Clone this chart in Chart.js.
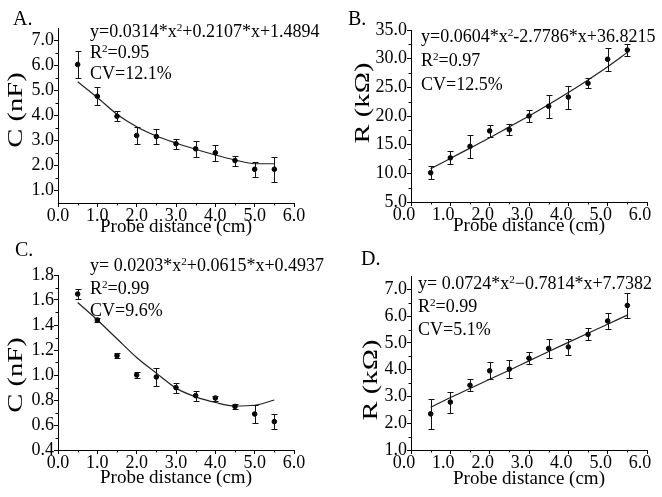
<!DOCTYPE html>
<html>
<head>
<meta charset="utf-8">
<script src="https://cdn.jsdelivr.net/npm/chart.js@4.4.1/dist/chart.umd.min.js"></script>
<style>
	html, body { margin: 0; padding: 0; background: #fff; }
	#fig {
		position: relative;
		width: 662px;
		height: 497px;
		overflow: hidden;
		background: #fff;
		color: #000;
		font-family: 'Liberation Serif', 'Times New Roman', serif;
	}
	#fig canvas { position: absolute; }
	.lbl { position: absolute; font-size: 20px; line-height: 20px; white-space: nowrap; }
	.eq { position: absolute; font-size: 18px; white-space: nowrap; }
	.eq sup { font-size: 0.62em; line-height: 0; vertical-align: 0.5em; }
	.ytitle {
		position: absolute;
		font-size: 22px;
		line-height: 22px;
		white-space: nowrap;
		transform: translate(-50%, -50%) rotate(-90deg) scale(1.3, 1);
	}
</style>
</head>
<body>
<div id="fig">
	<canvas id="cA" width="331" height="248" style="left:0;top:0"></canvas>
	<canvas id="cB" width="331" height="248" style="left:331px;top:0"></canvas>
	<canvas id="cC" width="331" height="249" style="left:0;top:248px"></canvas>
	<canvas id="cD" width="331" height="249" style="left:331px;top:248px"></canvas>

	<div class="lbl" style="left:13px;top:8px">A.</div>
	<div class="lbl" style="left:348px;top:8px">B.</div>
	<div class="lbl" style="left:15px;top:239px">C.</div>
	<div class="lbl" style="left:361px;top:248px">D.</div>

	<div class="ytitle" style="left:15px;top:110px">C (nF)</div>
	<div class="ytitle" style="left:362px;top:103px">R (kΩ)</div>
	<div class="ytitle" style="left:15px;top:375px">C (nF)</div>
	<div class="ytitle" style="left:370px;top:380px">R (kΩ)</div>

	<div class="eq" style="left:90px;top:21px;line-height:21px">y=0.0314*x<sup>2</sup>+0.2107*x+1.4894<br>R<sup>2</sup>=0.95<br>CV=12.1%</div>
	<div class="eq" style="left:421px;top:24px;line-height:24px">y=0.0604*x<sup>2</sup>-2.7786*x+36.8215<br>R<sup>2</sup>=0.97<br>CV=12.5%</div>
	<div class="eq" style="left:90px;top:254px;line-height:22.5px">y= 0.0203*x<sup>2</sup>+0.0615*x+0.4937<br>R<sup>2</sup>=0.99<br>CV=9.6%</div>
	<div class="eq" style="left:418px;top:272px;line-height:23px">y= 0.0724*x<sup>2</sup>−0.7814*x+7.7382<br>R<sup>2</sup>=0.99<br>CV=5.1%</div>
</div>
<script>
// probe distance (cm) shared by all four panels
const distance = [0.5, 1.0, 1.5, 2.0, 2.5, 3.0, 3.5, 4.0, 4.5, 5.0, 5.5];
const xTicks = [0, 1, 2, 3, 4, 5, 6];
const xMinor = [0.5, 1.5, 2.5, 3.5, 4.5, 5.5];

// A. capacitance (nF)
const capA = [6.04, 4.77, 3.97, 3.20, 3.16, 2.87, 2.67, 2.51, 2.20, 1.85, 1.85];
const capAErr = [0.56, 0.36, 0.20, 0.35, 0.30, 0.20, 0.32, 0.33, 0.20, 0.29, 0.50];
const capAFit = [5.35, 4.72, 4.05, 3.55, 3.18, 2.90, 2.65, 2.42, 2.22, 2.07, 2.07];
const yTicksA = [1, 2, 3, 4, 5, 6, 7];
const yMinorA = [1.5, 2.5, 3.5, 4.5, 5.5, 6.5];

// B. resistance (kOhm)
const resB = [10.1, 12.7, 14.7, 17.4, 17.6, 20.0, 21.7, 23.3, 25.7, 29.9, 31.5];
const resBErr = [1.1, 1.15, 2.0, 1.0, 1.0, 1.0, 2.0, 2.0, 0.9, 2.0, 1.0];
const resBFit = [10.8, 12.6, 14.4, 16.2, 18.1, 20.0, 22.0, 24.1, 26.3, 28.6, 31.1];
const yTicksB = [5, 10, 15, 20, 25, 30, 35];
const yMinorB = [7.5, 12.5, 17.5, 22.5, 27.5, 32.5];

// C. capacitance (nF)
const capC = [1.648, 1.44, 1.155, 1.0, 0.984, 0.899, 0.835, 0.816, 0.749, 0.688, 0.627];
const capCErr = [0.037, 0.012, 0.02, 0.027, 0.073, 0.04, 0.04, 0.02, 0.02, 0.07, 0.06];
const capCFit = [1.58, 1.44, 1.29, 1.14, 1.015, 0.895, 0.825, 0.78, 0.752, 0.758, 0.80];
const yTicksC = [0.4, 0.6, 0.8, 1.0, 1.2, 1.4, 1.6, 1.8];
const yMinorC = [0.5, 0.7, 0.9, 1.1, 1.3, 1.5, 1.7];

// D. resistance (kOhm)
const resD = [2.35, 2.79, 3.42, 3.96, 4.02, 4.43, 4.79, 4.85, 5.32, 5.82, 6.40];
const resDErr = [0.56, 0.39, 0.23, 0.31, 0.33, 0.22, 0.35, 0.31, 0.22, 0.31, 0.48];
const resDFit = [2.60, 2.96, 3.30, 3.64, 3.98, 4.33, 4.68, 5.02, 5.36, 5.70, 6.04];
const yTicksD = [1, 2, 3, 4, 5, 6, 7];
const yMinorD = [1.5, 2.5, 3.5, 4.5, 5.5, 6.5];

const FONT = "'Liberation Serif', 'Times New Roman', serif";
Chart.defaults.font.family = FONT;
Chart.defaults.color = '#000';

const errorBars = {
	id: 'errorBars',
	afterDatasetsDraw(chart) {
		const { ctx, scales: { x, y } } = chart;
		chart.data.datasets.forEach(ds => {
			if (!ds.errors) return;
			ctx.save();
			ctx.strokeStyle = '#111';
			ctx.lineWidth = 1;
			ctx.beginPath();
			ds.data.forEach((p, i) => {
				const px = Math.round(x.getPixelForValue(p.x)) + 0.5;
				const top = Math.round(y.getPixelForValue(p.y + ds.errors[i])) + 0.5;
				const bot = Math.round(y.getPixelForValue(p.y - ds.errors[i])) + 0.5;
				ctx.moveTo(px, top); ctx.lineTo(px, bot);
				ctx.moveTo(px - 3, top); ctx.lineTo(px + 3, top);
				ctx.moveTo(px - 3, bot); ctx.lineTo(px + 3, bot);
			});
			ctx.stroke();
			ctx.restore();
		});
	}
};

const minorTicks = {
	id: 'minorTicks',
	afterDraw(chart, args, opts) {
		const { ctx, scales: { x, y } } = chart;
		ctx.save();
		ctx.strokeStyle = '#000';
		ctx.lineWidth = 1;
		ctx.beginPath();
		(opts.x || []).forEach(v => {
			const px = Math.round(x.getPixelForValue(v)) + 0.5;
			ctx.moveTo(px, x.top); ctx.lineTo(px, x.top + 2.5);
		});
		(opts.y || []).forEach(v => {
			const py = Math.round(y.getPixelForValue(v)) + 0.5;
			ctx.moveTo(y.right, py); ctx.lineTo(y.right - 2.5, py);
		});
		ctx.stroke();
		ctx.restore();
	}
};

function panel(id, o) {
	const canvas = document.getElementById(id);
	return new Chart(canvas.getContext('2d'), {
		type: 'scatter',
		data: {
			datasets: [
				{
					type: 'line',
					data: distance.map((d, i) => ({ x: d, y: o.fit[i] })),
					borderColor: '#222',
					borderWidth: 1.2,
					pointRadius: 0,
					fill: false,
					cubicInterpolationMode: 'monotone',
					order: 2
				},
				{
					data: distance.map((d, i) => ({ x: d, y: o.values[i] })),
					errors: o.errors,
					backgroundColor: '#000',
					borderColor: '#000',
					pointRadius: 2.3,
					order: 1
				}
			]
		},
		options: {
			responsive: false,
			animation: false,
			layout: { padding: { left: 0, top: o.top, right: o.right, bottom: 0 } },
			plugins: {
				legend: { display: false },
				tooltip: { enabled: false },
				minorTicks: { x: xMinor, y: o.yMinor }
			},
			scales: {
				x: {
					type: 'linear',
					min: 0,
					max: 6,
					afterBuildTicks: s => { s.ticks = xTicks.map(v => ({ value: v })); },
					afterFit: s => { s.height = o.xHeight; },
					ticks: {
						callback: v => v.toFixed(1),
						font: { size: 18, lineHeight: 1 },
						padding: 0,
						labelOffset: o.labelShift || 0,
						maxRotation: 0,
						autoSkip: false
					},
					grid: { drawOnChartArea: false, tickLength: 4, tickColor: '#000' },
					border: { color: '#000', width: 1 },
					title: {
						display: true,
						text: 'Probe distance (cm)',
						font: { size: 19 },
						padding: { top: 0, bottom: o.titlePad }
					}
				},
				y: {
					type: 'linear',
					min: o.yMin,
					max: o.yMax,
					afterBuildTicks: s => { s.ticks = o.yTicks.map(v => ({ value: v })); },
					afterFit: s => { s.width = o.left; },
					ticks: {
						callback: v => v.toFixed(1),
						font: { size: 18, lineHeight: 1 },
						padding: 0,
						autoSkip: false
					},
					grid: { drawOnChartArea: false, tickLength: 4, tickColor: '#000' },
					border: { color: '#000', width: 1 }
				}
			}
		},
		plugins: [errorBars, minorTicks]
	});
}

panel('cA', {
	values: capA, errors: capAErr, fit: capAFit,
	yMin: 0.5, yMax: 7.5, yTicks: yTicksA, yMinor: yMinorA,
	left: 58, right: 37, top: 28, xHeight: 45, titlePad: 10
});
panel('cB', {
	values: resB, errors: resBErr, fit: resBFit,
	yMin: 5, yMax: 35, yTicks: yTicksB, yMinor: yMinorB,
	left: 80, right: 15, top: 30, xHeight: 46, titlePad: 11, labelShift: -7
});
panel('cC', {
	values: capC, errors: capCErr, fit: capCFit,
	yMin: 0.4, yMax: 1.8, yTicks: yTicksC, yMinor: yMinorC,
	left: 58, right: 37, top: 27, xHeight: 47, titlePad: 8
});
panel('cD', {
	values: resD, errors: resDErr, fit: resDFit,
	yMin: 1, yMax: 7.5, yTicks: yTicksD, yMinor: yMinorD,
	left: 80, right: 15, top: 28, xHeight: 47, titlePad: 7, labelShift: -7
});
</script>
</body>
</html>
